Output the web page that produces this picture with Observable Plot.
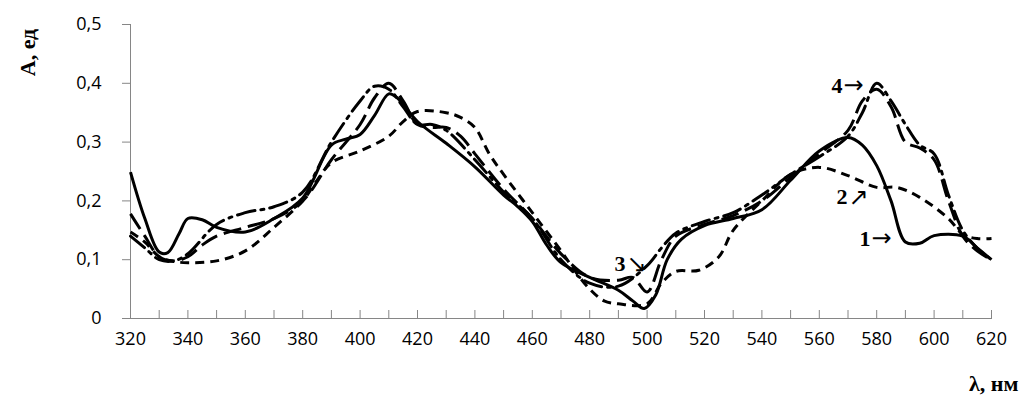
<!DOCTYPE html>
<html><head><meta charset="utf-8">
<script src="https://cdn.jsdelivr.net/npm/d3@7"></script>
<script src="https://cdn.jsdelivr.net/npm/@observablehq/plot@0.6"></script>
<style>body{margin:0;background:#fff;}</style>
</head><body><div id="chart"></div>
<script>
// Curve 1 (solid)
const lambda1 = [320,325,330,333,337,340,345,350,360,370,380,390,395,400,405,410,413,420,430,440,450,455,460,465,470,480,490,495,499,503,507,512,520,530,540,550,560,570,575,580,585,590,595,600,610,615,620];
const absorb1 = [0.249,0.17,0.113,0.112,0.145,0.170,0.168,0.155,0.147,0.170,0.205,0.295,0.305,0.313,0.345,0.382,0.375,0.335,0.298,0.258,0.21,0.19,0.165,0.125,0.095,0.07,0.048,0.03,0.017,0.04,0.1,0.135,0.158,0.17,0.185,0.235,0.285,0.308,0.295,0.26,0.2,0.13,0.128,0.141,0.14,0.12,0.10];
// Curve 2 (short dash)
const lambda2 = [320,325,330,335,340,350,360,370,380,385,390,400,410,415,420,430,435,440,445,450,460,470,475,480,485,490,500,505,510,518,525,530,540,550,560,570,580,587,595,605,610,615,620];
const absorb2 = [0.147,0.13,0.105,0.097,0.095,0.098,0.115,0.155,0.2,0.235,0.265,0.285,0.31,0.335,0.352,0.35,0.342,0.325,0.28,0.245,0.18,0.115,0.08,0.05,0.03,0.025,0.025,0.06,0.08,0.082,0.105,0.15,0.2,0.245,0.257,0.243,0.223,0.223,0.206,0.17,0.143,0.136,0.136];
// Curve 3 (long dash)
const lambda3 = [320,325,330,335,340,345,350,360,370,380,390,400,405,410,415,420,425,430,435,440,450,460,470,480,490,495,500,505,510,520,530,540,550,560,570,575,580,585,590,595,600,605,610,615,620];
const absorb3 = [0.178,0.14,0.105,0.098,0.105,0.125,0.14,0.155,0.17,0.2,0.27,0.33,0.375,0.4,0.37,0.33,0.325,0.325,0.31,0.28,0.22,0.17,0.11,0.07,0.065,0.07,0.045,0.1,0.14,0.16,0.175,0.2,0.24,0.28,0.32,0.37,0.39,0.36,0.3,0.29,0.27,0.2,0.14,0.115,0.10];
// Curve 4 (long dash dot)
const lambda4 = [320,325,330,335,340,350,360,370,380,390,400,405,410,415,420,425,430,440,450,460,470,480,490,500,505,510,520,530,540,550,560,570,575,580,585,590,595,600,605,610,615,620];
const absorb4 = [0.14,0.12,0.1,0.098,0.11,0.16,0.18,0.19,0.215,0.3,0.37,0.395,0.39,0.36,0.33,0.33,0.32,0.27,0.215,0.17,0.1,0.06,0.055,0.09,0.12,0.145,0.165,0.18,0.21,0.245,0.275,0.31,0.35,0.4,0.37,0.33,0.295,0.28,0.21,0.15,0.12,0.10];

const yTicks = [0,0.1,0.2,0.3,0.4,0.5];
const xMinorTicks = d3.range(320, 621, 10);
const xLabelTicks = d3.range(320, 621, 20);
const curveNames = ["1","2","3","4"];
const curveDash = ["none","9,6","18,7","18,6,3,6"];
const noteDigit = ["4","3","2","1"];
const noteArrow = ["→","↘","↗","→"];
const noteLambda = [568.1, 492.5, 569.8, 577.8];
const noteAbs = [0.396, 0.092, 0.206, 0.136];
const yTitle = "А, ед";
const xTitle = "λ, нм";

const series = [[lambda1,absorb1],[lambda2,absorb2],[lambda3,absorb3],[lambda4,absorb4]];
const notes = noteDigit.map((t,i)=>({t, a: noteArrow[i], x: noteLambda[i], y: noteAbs[i]}));
const gray = "#868686";

const lineMarks = series.map(([xs,ys],i)=>Plot.line(xs.map((x,j)=>({x, y: ys[j], s: curveNames[i]})), {
  x:"x", y:"y", stroke:"black", strokeWidth:3, strokeDasharray: curveDash[i],
  curve:"catmull-rom", strokeLinecap: i===3 ? "round" : "butt"
}));

const chart = Plot.plot({
  width: 1019, height: 403,
  marginLeft: 130, marginRight: 28, marginTop: 24, marginBottom: 85,
  x: {domain: [320, 620]},
  y: {domain: [0, 0.5]},
  style: {fontFamily: "'Open Sans', sans-serif", fontSize: "18px", background: "white", color: "black"},
  marks: [
    Plot.axisY({ticks: yTicks, tickFormat: d => String(d).replace(".", ","), tickSize: 8, tickPadding: 21, stroke: gray, fill: "black", label: null}),
    Plot.axisX({ticks: xMinorTicks, tickSize: -8, tickFormat: () => "", stroke: gray, label: null}),
    Plot.axisX({ticks: xLabelTicks, tickSize: 0, tickPadding: 14, tickFormat: d => String(d), fill: "black", label: null}),
    Plot.frame({anchor: "left", stroke: gray}),
    Plot.frame({anchor: "bottom", stroke: gray}),
    ...lineMarks,
    Plot.text(notes, {x:"x", y:"y", text:"t", textAnchor:"end", fontFamily:"'Liberation Serif', serif", fontWeight:"bold", fontSize: 22, fill:"black"}),
    Plot.text(notes, {x:"x", y:"y", text:"a", textAnchor:"start", dx: 1, fontFamily:"'DejaVu Sans', sans-serif", fontSize: 24, fill:"black"}),
    Plot.text([yTitle], {frameAnchor:"top-left", dx:-111, dy:28, rotate:-90, textAnchor:"middle", fontFamily:"'Liberation Serif', serif", fontWeight:"bold", fontSize:22, fill:"black"}),
    Plot.text([xTitle], {frameAnchor:"bottom-right", dx:27, dy:72, textAnchor:"end", fontFamily:"'Liberation Serif', serif", fontWeight:"bold", fontSize:22, fill:"black"})
  ]
});
document.getElementById("chart").appendChild(chart);
</script>
</body></html>
